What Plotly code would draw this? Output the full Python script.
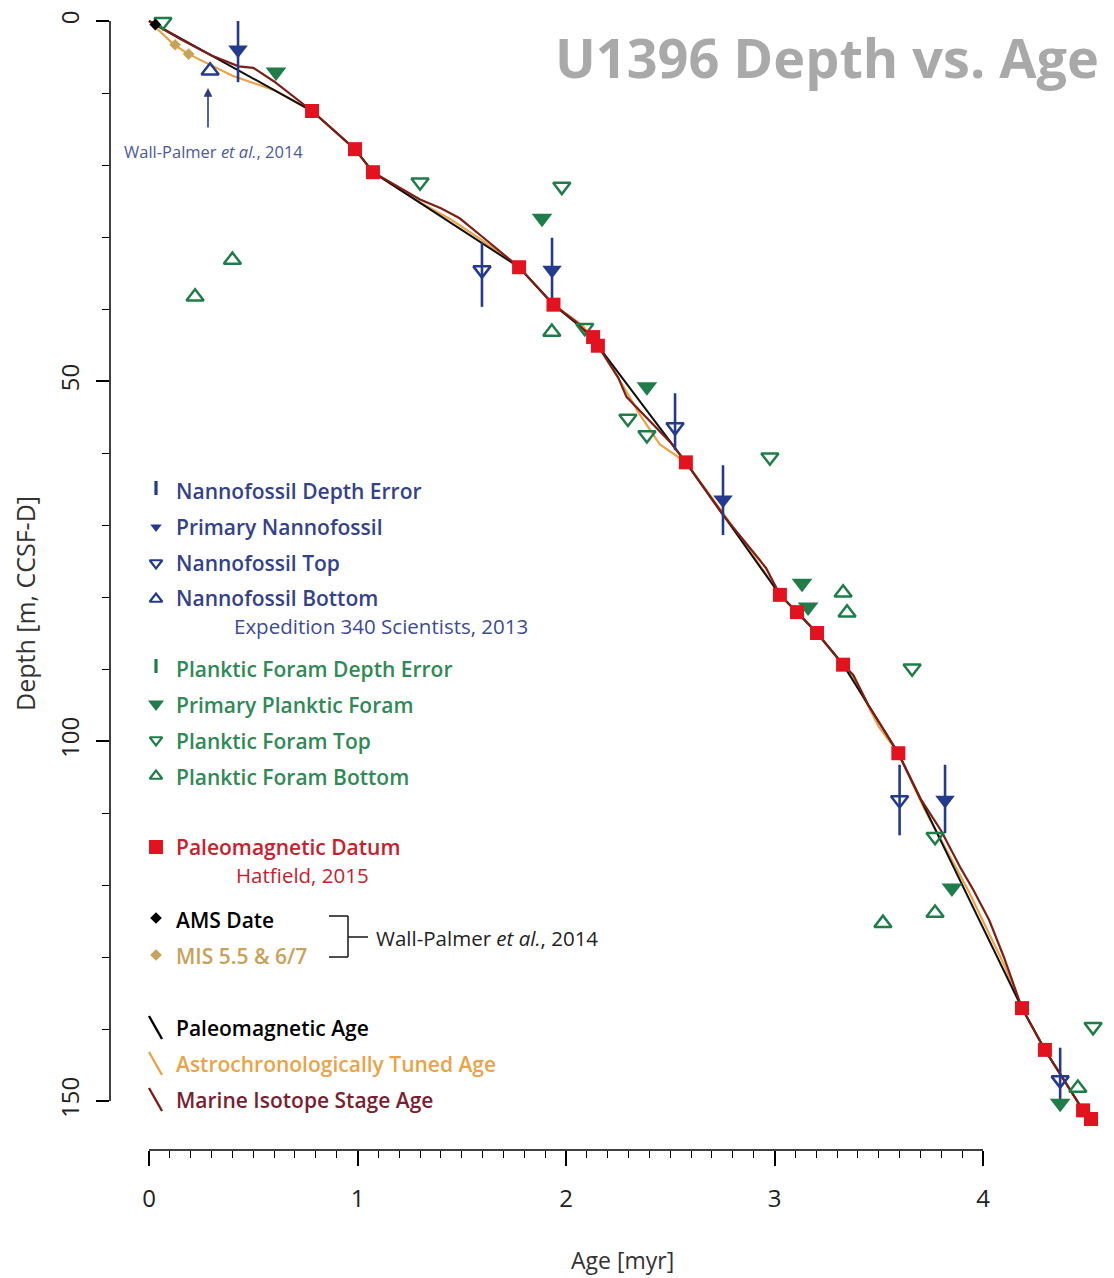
import plotly.graph_objects as go

# ---------------- data (age in myr, depth in m CCSF-D) ----------------
paleo_datum_age = [0.782, 0.988, 1.074, 1.775, 1.94, 2.13, 2.153, 2.575, 3.026, 3.108,
                   3.204, 3.329, 3.594, 4.187, 4.297, 4.48, 4.518]
paleo_datum_depth = [12.5, 17.8, 21.0, 34.2, 39.4, 43.9, 45.1, 61.3, 79.7, 82.1,
                     85.0, 89.4, 101.7, 137.1, 142.9, 151.3, 152.5]

paleo_line_age = [0.0, 0.782, 0.988, 1.074, 1.775, 1.94, 2.13, 2.153, 2.575, 3.026, 3.108,
                  3.204, 3.329, 3.594, 4.187, 4.297, 4.48, 4.518]
paleo_line_depth = [0.0, 12.5, 17.8, 21.0, 34.2, 39.4, 43.9, 45.1, 61.3, 79.7, 82.1,
                    85.0, 89.4, 101.7, 137.1, 142.9, 151.3, 152.5]

mis_age = [0, 0.15, 0.3, 0.43, 0.5, 0.6, 0.782, 0.988, 1.074, 1.3, 1.4, 1.49, 1.6, 1.775,
           1.94, 2.05, 2.153, 2.25, 2.29, 2.4, 2.5, 2.575, 2.75, 2.93, 2.96, 3.026, 3.108,
           3.204, 3.329, 3.377, 3.45, 3.594, 3.7, 3.8, 3.89, 3.95, 4.03, 4.1, 4.187, 4.297,
           4.48, 4.518]
mis_depth = [0, 2.5, 4.8, 6.3, 6.5, 8.4, 12.5, 17.8, 21.0, 24.8, 26.0, 27.4, 30.0, 34.2,
             39.4, 41.8, 45.1, 49.5, 52.2, 55.5, 58.5, 61.3, 68.5, 74.9, 76.0, 79.7, 82.1,
             85.0, 89.4, 90.8, 95.0, 101.7, 108.0, 112.5, 117.5, 120.5, 124.9, 130.0, 137.1,
             142.9, 151.3, 152.5]

astro_age = [0, 0.12, 0.19, 0.3, 0.4, 0.6, 0.782, 0.988, 1.074, 1.3, 1.45, 1.6, 1.775, 1.94,
             2.0, 2.08, 2.153, 2.27, 2.35, 2.45, 2.575, 2.75, 2.92, 3.026, 3.108, 3.204,
             3.329, 3.38, 3.5, 3.594, 3.72, 3.86, 3.93, 4.0, 4.1, 4.187, 4.297, 4.48, 4.518]
astro_depth = [0, 3.3, 4.6, 6.2, 7.6, 9.6, 12.5, 17.8, 21.0, 25.2, 27.6, 30.5, 34.2, 39.4,
               40.6, 42.3, 45.1, 50.5, 54.5, 58.8, 61.3, 68.2, 75.2, 79.7, 82.1, 85.0,
               89.4, 91.2, 98.0, 101.7, 109.5, 117.0, 120.8, 125.0, 131.0, 137.1, 142.9,
               151.3, 152.5]

nanno_primary_age = [0.427, 1.933, 2.753, 3.818]
nanno_primary_depth = [4.0, 34.6, 66.5, 108.2]
nanno_primary_err_top = [0.0, 30.1, 61.7, 103.3]
nanno_primary_err_bot = [8.5, 38.8, 71.4, 112.8]

nanno_top_age = [1.597, 2.523, 3.60, 4.37]
nanno_top_depth = [34.6, 56.4, 108.2, 147.1]
nanno_top_err_top = [30.8, 51.7, 103.3, 142.6]
nanno_top_err_bot = [39.7, 59.6, 113.1, 151.0]

nanno_bottom_age = [0.293]
nanno_bottom_depth = [6.9]

foram_primary_age = [0.609, 1.885, 2.388, 3.132, 3.161, 3.851, 4.37]
foram_primary_depth = [7.1, 27.4, 50.8, 78.1, 81.4, 120.4, 150.3]

foram_top_age = [0.067, 1.30, 1.98, 2.09, 2.297, 2.388, 2.978, 3.66, 3.77, 4.528]
foram_top_depth = [0.1, 22.4, 23.0, 42.6, 55.2, 57.5, 60.6, 89.9, 113.3, 139.7]

foram_bottom_age = [0.221, 0.40, 1.932, 3.329, 3.348, 3.52, 3.77, 4.455]
foram_bottom_depth = [38.3, 33.2, 43.2, 79.4, 82.2, 125.3, 123.9, 148.2]

ams_age = [0.03]
ams_depth = [0.5]
mis_pt_age = [0.125, 0.19]
mis_pt_depth = [3.3, 4.6]

x_ticks = [0, 1, 2, 3, 4]
y_ticks = [0, 50, 100, 150]

# ---------------- styling ----------------
OFF = 8                      # page body margin in the browser
W, H = 1114 - OFF, 1278 - OFF
PL, PR, PT, PB = 110, 1110, 10, 1150   # plot area in page pixels
ML, MR, MT, MB = PL - OFF, (W + OFF) - PR, PT - OFF, (H + OFF) - PB

BLUE = "#243a8e"
GREEN = "#1f7d4a"
RED = "#e3121f"
BLUE_T = "#34428a"
GREEN_T = "#2f8a55"
RED_T = "#c8202e"
TAN = "#c9a25a"
ORANGE = "#eaa347"
BROWN = "#7c1f17"
FONT = "Open Sans"


def pxx(x):
    return (x - PL) / (PR - PL)


def pxy(y):
    return (PB - y) / (PB - PT)


def err_path(xs, tops, bots):
    ex, ey = [], []
    for x, t, b in zip(xs, tops, bots):
        ex += [x, x, None]
        ey += [t, b, None]
    return ex, ey


fig = go.Figure()

# lines
fig.add_trace(go.Scatter(x=astro_age, y=astro_depth, mode="lines",
                         line=dict(color=ORANGE, width=2.2), hoverinfo="skip"))
fig.add_trace(go.Scatter(x=paleo_line_age, y=paleo_line_depth, mode="lines",
                         line=dict(color="#111111", width=2), hoverinfo="skip"))
fig.add_trace(go.Scatter(x=mis_age, y=mis_depth, mode="lines",
                         line=dict(color=BROWN, width=2.2), hoverinfo="skip"))

# error bars
ex, ey = err_path(nanno_primary_age, nanno_primary_err_top, nanno_primary_err_bot)
fig.add_trace(go.Scatter(x=ex, y=ey, mode="lines", line=dict(color=BLUE, width=2.6)))
ex, ey = err_path(nanno_top_age, nanno_top_err_top, nanno_top_err_bot)
fig.add_trace(go.Scatter(x=ex, y=ey, mode="lines", line=dict(color=BLUE, width=2.6)))

# markers
fig.add_trace(go.Scatter(x=foram_top_age, y=foram_top_depth, mode="markers",
                         marker=dict(symbol="triangle-down-open", size=15, color=GREEN,
                                     line=dict(width=2.5, color=GREEN))))
fig.add_trace(go.Scatter(x=foram_bottom_age, y=foram_bottom_depth, mode="markers",
                         marker=dict(symbol="triangle-up-open", size=15, color=GREEN,
                                     line=dict(width=2.5, color=GREEN))))
fig.add_trace(go.Scatter(x=foram_primary_age, y=foram_primary_depth, mode="markers",
                         marker=dict(symbol="triangle-down", size=18, color=GREEN,
                                     line=dict(width=0))))
fig.add_trace(go.Scatter(x=nanno_top_age, y=nanno_top_depth, mode="markers",
                         marker=dict(symbol="triangle-down-open", size=15, color=BLUE,
                                     line=dict(width=2.5, color=BLUE))))
fig.add_trace(go.Scatter(x=nanno_bottom_age, y=nanno_bottom_depth, mode="markers",
                         marker=dict(symbol="triangle-up-open", size=15, color=BLUE,
                                     line=dict(width=2.5, color=BLUE))))
fig.add_trace(go.Scatter(x=nanno_primary_age, y=nanno_primary_depth, mode="markers",
                         marker=dict(symbol="triangle-down", size=17, color=BLUE,
                                     line=dict(width=0))))
fig.add_trace(go.Scatter(x=paleo_datum_age, y=paleo_datum_depth, mode="markers",
                         marker=dict(symbol="square", size=14, color=RED, line=dict(width=0))))
fig.add_trace(go.Scatter(x=mis_pt_age, y=mis_pt_depth, mode="markers",
                         marker=dict(symbol="diamond", size=9, color=TAN, line=dict(width=0))))
fig.add_trace(go.Scatter(x=ams_age, y=ams_depth, mode="markers",
                         marker=dict(symbol="diamond", size=9, color="black", line=dict(width=0))))

# ---------------- custom legend (pixel overlay axes) ----------------
SX = 156
leg_marks = [
    (488, "line-ns", 14, BLUE, 3.2),
    (527, "triangle-down", 10, BLUE, 0),
    (563, "triangle-down-open", 11, BLUE, 2.2),
    (599, "triangle-up-open", 11, BLUE, 2.2),
    (666, "line-ns", 14, GREEN, 3.2),
    (704, "triangle-down", 14, GREEN, 0),
    (740, "triangle-down-open", 11, GREEN, 2.2),
    (776, "triangle-up-open", 11, GREEN, 2.2),
    (847, "square", 14, RED, 0),
    (918, "diamond", 9, "black", 0),
    (955, "diamond", 9, TAN, 0),
]
for yy, sym, sz, col, lw in leg_marks:
    if sym == "line-ns":
        fig.add_trace(go.Scatter(x=[SX, SX], y=[yy - 7, yy + 7], mode="lines",
                                 line=dict(color=col, width=lw), xaxis="x2", yaxis="y2"))
    else:
        mk = dict(symbol=sym, size=sz, color=col)
        if lw:
            mk["line"] = dict(width=lw, color=col)
        else:
            mk["line"] = dict(width=0)
        fig.add_trace(go.Scatter(x=[SX], y=[yy], mode="markers", marker=mk,
                                 xaxis="x2", yaxis="y2"))
for yy, col in [(1028, "black"), (1064, ORANGE), (1100, BROWN)]:
    fig.add_trace(go.Scatter(x=[149, 162], y=[yy - 12, yy + 11], mode="lines",
                             line=dict(color=col, width=2.4), xaxis="x2", yaxis="y2"))

annotations = []


def txt(x, y, s, color, size=21, weight=600, xanchor="left", **kw):
    annotations.append(dict(x=pxx(x), y=pxy(y), xref="paper", yref="paper", text=s,
                            showarrow=False, xanchor=xanchor, yanchor="middle",
                            font=dict(family=FONT, size=size, color=color, weight=weight),
                            **kw))


TX = 174
txt(TX, 491, "Nannofossil Depth Error", BLUE_T)
txt(TX, 527, "Primary Nannofossil", BLUE_T)
txt(TX, 563, "Nannofossil Top", BLUE_T)
txt(TX, 598, "Nannofossil Bottom", BLUE_T)
txt(232, 626, "Expedition 340 Scientists, 2013", "#3d4b95", size=20.5, weight=400)
txt(TX, 669, "Planktic Foram Depth Error", GREEN_T)
txt(TX, 705, "Primary Planktic Foram", GREEN_T)
txt(TX, 741, "Planktic Foram Top", GREEN_T)
txt(TX, 777, "Planktic Foram Bottom", GREEN_T)
txt(TX, 847, "Paleomagnetic Datum", RED_T)
txt(234, 875, "Hatfield, 2015", RED_T, size=20.5, weight=400)
txt(TX, 920, "AMS Date", "black")
txt(TX, 956, "MIS 5.5 &amp; 6/7", TAN)
txt(374, 938, "Wall-Palmer <i>et al.</i>, 2014", "#222222", size=20.5, weight=400)
txt(TX, 1028, "Paleomagnetic Age", "black")
txt(TX, 1064, "Astrochronologically Tuned Age", ORANGE)
txt(TX, 1100, "Marine Isotope Stage Age", "#7a1f32")

# annotation for Wall-Palmer nannofossil bottom
txt(122, 151, "Wall-Palmer <i>et al.</i>, 2014", "#4b5a99", size=16.5, weight=400)
annotations.append(dict(x=pxx(208), y=pxy(88), xref="paper", yref="paper",
                        ax=0, ay=41, text="", showarrow=True, arrowhead=2, arrowsize=1.1,
                        arrowwidth=1.6, arrowcolor="#2c3a86"))

# title and axis titles
txt(1101, 57, "U1396 Depth vs. Age", "#a9a9a9", size=54, weight=700, xanchor="right")
txt(622, 1260, "Age [myr]", "#333333", size=23, weight=400, xanchor="center")
annotations.append(dict(x=pxx(25), y=pxy(604), xref="paper", yref="paper",
                        text="Depth [m, CCSF-D]", showarrow=False, textangle=-90,
                        xanchor="center", yanchor="middle",
                        font=dict(family=FONT, size=25, color="#333333")))

# bracket shapes (page pixels converted to paper)
shapes = []


def pline(x0, y0, x1, y1, w=1.6, color="#222222"):
    shapes.append(dict(type="line", xref="paper", yref="paper", x0=pxx(x0), y0=pxy(y0),
                       x1=pxx(x1), y1=pxy(y1), line=dict(color=color, width=w)))


pline(329, 916, 348, 916)
pline(348, 916, 348, 957)
pline(329, 957, 348, 957)
pline(348, 937, 368, 937)

# axis lines spanning first to last tick
shapes.append(dict(type="line", xref="x", yref="paper", x0=x_ticks[0], x1=x_ticks[-1],
                   y0=0, y1=0, line=dict(color="black", width=1.5)))
shapes.append(dict(type="line", xref="paper", yref="y", x0=0, x1=0, y0=y_ticks[0],
                   y1=y_ticks[-1], line=dict(color="black", width=1.5)))

# ranges so that age 0 -> px 149, age 4 -> px 983; depth 0 -> px 21, 150 -> px 1101
ppu_x = (983 - 149) / 4.0
ppu_y = (1101 - 21) / 150.0
x_range = [(PL - 149) / ppu_x, (PR - 149) / ppu_x]
y_range = [(PB - 21) / ppu_y, (PT - 21) / ppu_y]

fig.update_layout(
    width=W, height=H, margin=dict(l=ML, r=MR, t=MT, b=MB),
    paper_bgcolor="white", plot_bgcolor="white", showlegend=False,
    annotations=annotations, shapes=shapes,
    xaxis=dict(range=x_range, showgrid=False, zeroline=False, showline=False,
               ticks="outside", tickvals=x_ticks, ticktext=[str(v) for v in x_ticks],
               ticklen=15, tickwidth=1.5, tickcolor="black", ticklabelstandoff=12,
               tickfont=dict(family=FONT, size=24, color="#222222"),
               minor=dict(tickvals=[i / 10 for i in range(0, 41) if i % 10],
                          ticks="outside", ticklen=7, tickwidth=1.2, tickcolor="black")),
    yaxis=dict(range=y_range, showgrid=False, zeroline=False, showline=False,
               ticks="outside", tickvals=y_ticks, ticktext=[str(v) for v in y_ticks],
               ticklen=13, tickwidth=1.5, tickcolor="black", tickangle=-90,
               ticklabelstandoff=7,
               tickfont=dict(family=FONT, size=24, color="#222222"),
               minor=dict(tickvals=[v for v in range(10, 150, 10) if v % 50],
                          ticks="outside", ticklen=7, tickwidth=1.2, tickcolor="black")),
    xaxis2=dict(range=[PL, PR], overlaying="x", anchor="y2", visible=False),
    yaxis2=dict(range=[PB, PT], overlaying="y", anchor="x2", visible=False),
)

fig.write_html("out.html")
